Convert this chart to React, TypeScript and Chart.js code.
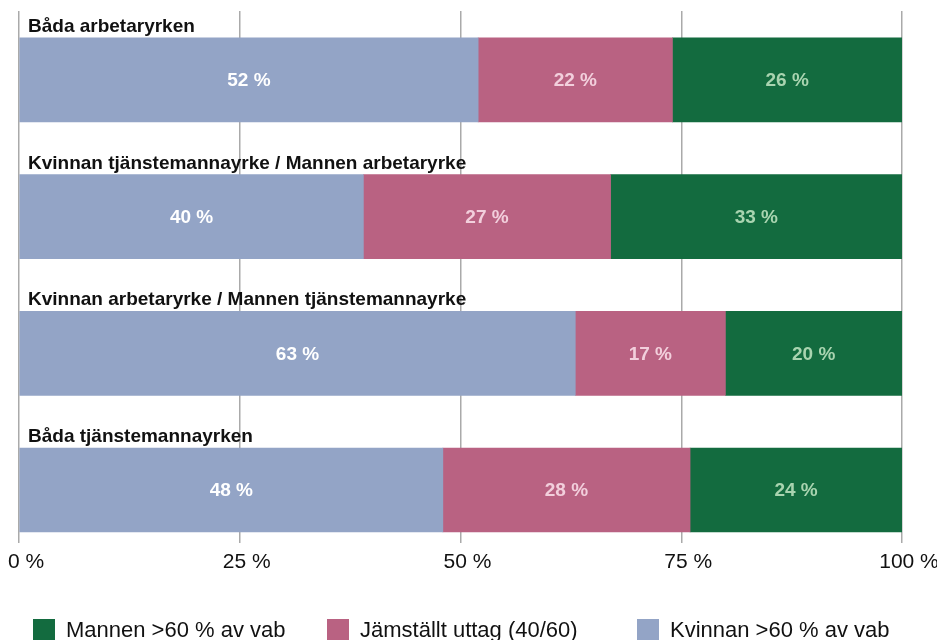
import React, { useEffect, useRef } from "react";
import { Chart, registerables } from "chart.js";

Chart.register(...registerables);

const categories = [
  "Båda arbetaryrken",
  "Kvinnan tjänstemannayrke / Mannen arbetaryrke",
  "Kvinnan arbetaryrke / Mannen tjänstemannayrke",
  "Båda tjänstemannayrken",
];

const kvinnanValues = [52, 39, 63, 48];
const jamstalltValues = [22, 28, 17, 28];
const mannenValues = [26, 33, 20, 24];

const kvinnanLabels = ["52 %", "40 %", "63 %", "48 %"];
const jamstalltLabels = ["22 %", "27 %", "17 %", "28 %"];
const mannenLabels = ["26 %", "33 %", "20 %", "24 %"];

const seriesNames = ["Kvinnan >60 % av vab", "Jämställt uttag (40/60)", "Mannen >60 % av vab"];
const xTicks = [0, 25, 50, 75, 100];

const FONT = '"Liberation Sans", Arial, Helvetica, sans-serif';
const LEGEND_X = [33, 327, 637];

export default function App() {
  const ref = useRef<HTMLCanvasElement | null>(null);

  useEffect(() => {
    if (!ref.current) return;
    const labelSets = [kvinnanLabels, jamstalltLabels, mannenLabels];
    const textColors = ["#ffffff", "#f2cfdc", "#a9d4b0"];

    const labelPlugin = {
      id: "labelPlugin",
      afterDatasetsDraw(chart: any) {
        const ctx = chart.ctx;
        ctx.save();
        // category titles above bars
        const meta0 = chart.getDatasetMeta(0);
        ctx.font = `bold 19px ${FONT}`;
        ctx.fillStyle = "#111111";
        ctx.textAlign = "left";
        ctx.textBaseline = "alphabetic";
        meta0.data.forEach((bar: any, i: number) => {
          const top = bar.y - bar.height / 2;
          ctx.fillText(categories[i], chart.chartArea.left + 9, top - 6);
        });
        // value labels
        ctx.font = `bold 19px ${FONT}`;
        ctx.textAlign = "center";
        ctx.textBaseline = "middle";
        chart.data.datasets.forEach((_: any, di: number) => {
          const meta = chart.getDatasetMeta(di);
          ctx.fillStyle = textColors[di];
          meta.data.forEach((bar: any, i: number) => {
            const cx = (bar.x + bar.base) / 2;
            ctx.fillText(labelSets[di][i], cx, bar.y + 1);
          });
        });
        ctx.restore();
      },
      afterDraw(chart: any) {
        // legend (reverse dataset order), drawn below the axis
        const ctx = chart.ctx;
        ctx.save();
        ctx.font = `22px ${FONT}`;
        ctx.textAlign = "left";
        ctx.textBaseline = "middle";
        const boxSize = 22;
        const boxTop = 619;
        const ds = chart.data.datasets.slice().reverse();
        ds.forEach((d: any, i: number) => {
          const x = LEGEND_X[i];
          ctx.fillStyle = d.backgroundColor;
          ctx.fillRect(x, boxTop, boxSize, boxSize);
          ctx.fillStyle = "#111111";
          ctx.fillText(d.label, x + boxSize + 11, boxTop + boxSize / 2 + 1);
        });
        ctx.restore();
      },
    };

    const chart = new Chart(ref.current, {
      type: "bar",
      data: {
        datasets: [
          {
            label: seriesNames[0],
            data: kvinnanValues.map((v, i) => ({ x: v, y: i })),
            backgroundColor: "#93a4c6",
            borderWidth: 0,
            barThickness: 84,
          },
          {
            label: seriesNames[1],
            data: jamstalltValues.map((v, i) => ({ x: v, y: i })),
            backgroundColor: "#b96282",
            borderWidth: 0,
            barThickness: 84,
          },
          {
            label: seriesNames[2],
            data: mannenValues.map((v, i) => ({ x: v, y: i })),
            backgroundColor: "#136b3f",
            borderWidth: 0,
            barThickness: 84,
          },
        ],
      },
      options: {
        indexAxis: "y",
        responsive: false,
        animation: false,
        devicePixelRatio: 1,
        layout: { padding: { top: 11, left: 19, right: 35, bottom: 58 } },
        plugins: {
          tooltip: { enabled: false },
          legend: { display: false },
        },
        scales: {
          x: {
            type: "linear",
            stacked: true,
            min: xTicks[0],
            max: xTicks[xTicks.length - 1],
            afterBuildTicks(scale: any) {
              scale.ticks = xTicks.map((v) => ({ value: v }));
            },
            afterFit(scale: any) {
              scale.paddingLeft = 0;
              scale.paddingRight = 0;
            },
            grid: { color: "#aaaaaa", lineWidth: 1.5, drawTicks: false },
            border: { display: false },
            ticks: {
              color: "#111111",
              padding: 7,
              labelOffset: 7,
              font: { family: FONT, size: 21 },
              callback: (v: any) => `${v} %`,
              maxRotation: 0,
            },
          },
          y: {
            type: "linear",
            stacked: true,
            reverse: true,
            offset: false,
            grace: 0,
            min: -0.504,
            max: 3.386,
            display: false,
          },
        },
      },
      plugins: [labelPlugin],
    } as any);
    return () => chart.destroy();
  }, []);

  return (
    <div style={{ position: "fixed", left: 0, top: 0, width: 937, height: 640, background: "#fff" }}>
      <canvas ref={ref} width={937} height={640} style={{ display: "block", width: 937, height: 640 }} />
    </div>
  );
}
